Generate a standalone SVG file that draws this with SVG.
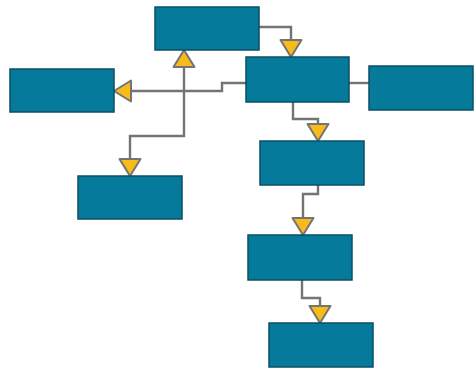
<svg xmlns="http://www.w3.org/2000/svg" width="474" height="369" viewBox="0 0 474 369">
<style>
.node{fill:#067a9b;stroke:#0a4f66;stroke-width:1.5}
.conn{fill:none;stroke:#747474;stroke-width:2.4}
</style>
<defs>
<marker id="arr" markerUnits="userSpaceOnUse" viewBox="-2 -2 22 25" markerWidth="22" markerHeight="25" refX="17" refY="10.5" orient="auto-start-reverse">
<path d="M0,0 L17,10.5 L0,21 Z" fill="#f7bb1a" stroke="#747474" stroke-width="2" stroke-linejoin="round"/>
</marker>
</defs>
<rect width="474" height="369" fill="#ffffff"/>
<g id="connectors">
<path class="conn" d="M259,27 H291 V57" marker-end="url(#arr)"/>
<path class="conn" d="M246,83 H222 V91 H114" marker-end="url(#arr)"/>
<path class="conn" d="M349,83 H369"/>
<path class="conn" d="M184,50 V136 H130 V176" marker-start="url(#arr)" marker-end="url(#arr)"/>
<path class="conn" d="M293,102 V119 H318 V141" marker-end="url(#arr)"/>
<path class="conn" d="M318,185 V194 H303 V235" marker-end="url(#arr)"/>
<path class="conn" d="M302,280 V298 H320 V323" marker-end="url(#arr)"/>
</g>
<g id="nodeA"><rect class="node" x="155" y="7" width="104" height="43"/></g>
<g id="nodeB"><rect class="node" x="246" y="57" width="103" height="45"/></g>
<g id="nodeC"><rect class="node" x="10" y="69" width="104" height="43"/></g>
<g id="nodeD"><rect class="node" x="369" y="66" width="104" height="44"/></g>
<g id="nodeE"><rect class="node" x="78" y="176" width="104" height="43"/></g>
<g id="nodeF"><rect class="node" x="260" y="141" width="104" height="44"/></g>
<g id="nodeG"><rect class="node" x="248" y="235" width="104" height="45"/></g>
<g id="nodeH"><rect class="node" x="269" y="323" width="104" height="44"/></g>
</svg>
